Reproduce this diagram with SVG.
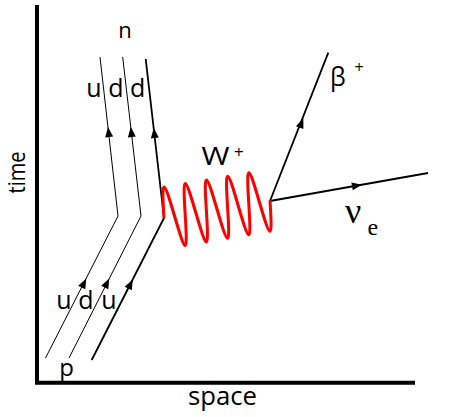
<svg xmlns="http://www.w3.org/2000/svg" width="450" height="417" viewBox="0 0 450 417">
<style>
.lbl{font-family:"Open Sans","Liberation Sans",sans-serif;fill:#000}
.ser{font-family:"Liberation Serif","Times New Roman",serif;fill:#000}
.thin{fill:none;stroke:#000;stroke-width:1}
.thick{fill:none;stroke:#000;stroke-width:1.8}
.axis{fill:none;stroke:#000;stroke-width:4}
.wave{fill:none;stroke:#f00;stroke-width:3;stroke-linejoin:round}
</style>
<defs>
<path id="ah" d="M5,0 L-5,-4 L-5,4 Z" fill="#000"/>
</defs>
<rect width="450" height="417" fill="#fff"/>
<g id="axes">
<path class="axis" d="M37,5 V382.7 H415"/>
<text class="lbl" font-size="23" text-anchor="middle" textLength="42" lengthAdjust="spacingAndGlyphs" transform="translate(25,172.5) rotate(-90)">time</text>
<text class="lbl" font-size="25" x="188" y="405" textLength="69" lengthAdjust="spacingAndGlyphs">space</text>
</g>
<g id="connectors">
<path id="quark1" class="thin" d="M45.5,358 L118,216 L100,57"/>
<path id="quark2" class="thin" d="M69,358 L141,216 L122.7,57"/>
<path id="quark3" class="thick" d="M91.7,360 L164,218 L145.7,59"/>
<path id="beta-line" class="thick" d="M270,201 L328.3,52.7"/>
<path id="nu-line" class="thick" d="M270,201 L428,173"/>
<use href="#ah" transform="translate(108.6,132) rotate(-96.4)"/>
<use href="#ah" transform="translate(131.3,132) rotate(-96.4)"/>
<use href="#ah" transform="translate(154.3,133) rotate(-96.4)"/>
<use href="#ah" transform="translate(84,283) rotate(-63)"/>
<use href="#ah" transform="translate(107,283) rotate(-63)"/>
<use href="#ah" transform="translate(130.5,284) rotate(-63)"/>
<use href="#ah" transform="translate(301.5,123) rotate(-68.6)"/>
<use href="#ah" transform="translate(357,185.5) rotate(-10)"/>
</g>
<g id="neutron">
<text class="lbl" font-size="22" x="125" y="38.3" text-anchor="middle">n</text>
<text class="lbl" font-size="25" y="97" text-anchor="middle"><tspan x="94">u</tspan><tspan x="116">d</tspan><tspan x="137.6">d</tspan></text>
</g>
<g id="proton">
<text class="lbl" font-size="25" y="309" text-anchor="middle"><tspan x="64">u</tspan><tspan x="86">d</tspan><tspan x="109">u</tspan></text>
<text class="lbl" font-size="24" x="66.5" y="376" text-anchor="middle">p</text>
</g>
<g id="w-boson">
<path class="wave" transform="translate(164,218) skewY(-9.5)" d="M0,0
c-1.008,-16.23 -1.767,-31 0,-31 c1.767,0 6.058,14.77 10.6,31 c4.542,16.23 8.833,31 10.6,31 c1.767,0 1.008,-14.77 0,-31
c-1.008,-16.23 -1.767,-31 0,-31 c1.767,0 6.058,14.77 10.6,31 c4.542,16.23 8.833,31 10.6,31 c1.767,0 1.008,-14.77 0,-31
c-1.008,-16.23 -1.767,-31 0,-31 c1.767,0 6.058,14.77 10.6,31 c4.542,16.23 8.833,31 10.6,31 c1.767,0 1.008,-14.77 0,-31
c-1.008,-16.23 -1.767,-31 0,-31 c1.767,0 6.058,14.77 10.6,31 c4.542,16.23 8.833,31 10.6,31 c1.767,0 1.008,-14.77 0,-31
c-1.008,-16.23 -1.767,-31 0,-31 c1.767,0 6.058,14.77 10.6,31 c4.542,16.23 8.833,31 10.6,31 c1.767,0 1.008,-14.77 0,-31"/>
<text class="lbl" font-size="25" x="201.5" y="165" textLength="28" lengthAdjust="spacingAndGlyphs">W</text>
<text class="lbl" font-size="17" x="234" y="158">+</text>
</g>
<g id="positron">
<text class="lbl" font-size="25" x="330" y="86">β <tspan x="354.5" y="73" font-size="16">+</tspan></text>
</g>
<g id="neutrino">
<text class="ser" font-size="36" x="345" y="223">ν<tspan x="367.5" y="235" font-size="24">e</tspan></text>
</g>
</svg>
